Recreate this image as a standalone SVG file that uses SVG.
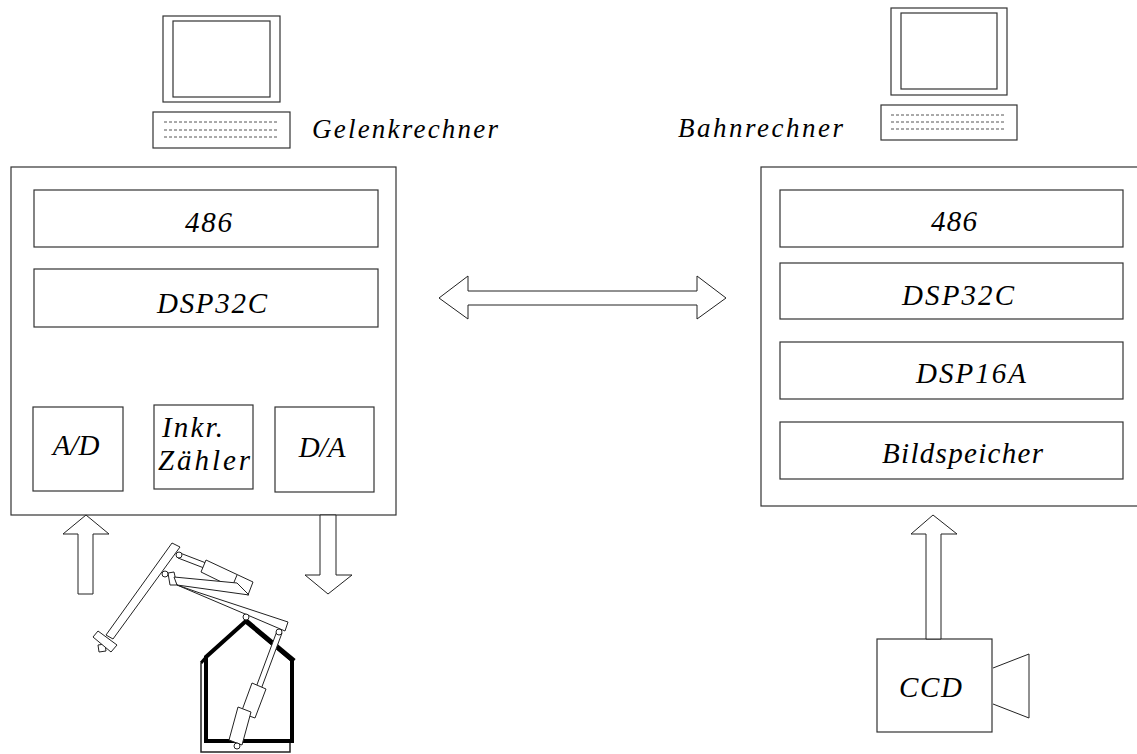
<svg xmlns="http://www.w3.org/2000/svg" width="1137" height="754" viewBox="0 0 1137 754">
  <style>
    .box { fill: #fff; stroke: #333; stroke-width: 1.2; }
    .ln { fill: none; stroke: #222; stroke-width: 1; }
    .fill { fill: #fff; stroke: #222; stroke-width: 1; }
    .thick { fill: none; stroke: #000; stroke-width: 4; stroke-linejoin: miter; }
    .dots { stroke: #555; stroke-width: 1; stroke-dasharray: 3 2; }
  </style>

  <!-- workstation icons -->
  <g id="pc-gelenk">
    <rect class="box" x="163" y="16" width="117" height="86"/>
    <rect class="box" x="173" y="21" width="97" height="76"/>
    <rect class="box" x="153" y="112" width="137" height="36"/>
    <line class="dots" x1="164" y1="122" x2="277" y2="122"/>
    <line class="dots" x1="164" y1="130" x2="277" y2="130"/>
    <line class="dots" x1="164" y1="137" x2="277" y2="137"/>
    <text font-family="Liberation Serif, Times New Roman, serif" font-style="italic" font-size="27" x="312" y="138" textLength="186" lengthAdjust="spacing">Gelenkrechner</text>
  </g>
  <g id="pc-bahn">
    <rect class="box" x="891" y="8" width="116" height="87"/>
    <rect class="box" x="901" y="13" width="96" height="76"/>
    <rect class="box" x="881" y="105" width="136" height="35"/>
    <line class="dots" x1="891" y1="115" x2="1004" y2="115"/>
    <line class="dots" x1="891" y1="122" x2="1004" y2="122"/>
    <line class="dots" x1="891" y1="129" x2="1004" y2="129"/>
    <text font-family="Liberation Serif, Times New Roman, serif" font-style="italic" font-size="27" x="678" y="137" textLength="165" lengthAdjust="spacing">Bahnrechner</text>
  </g>

  <!-- joint controller -->
  <g id="gelenkrechner" font-family="Liberation Serif, Times New Roman, serif" font-style="italic" font-size="29">
    <rect class="box" x="11" y="167" width="385" height="348"/>
    <rect class="box" x="34" y="190" width="344" height="57"/>
    <text x="185" y="232" textLength="47" lengthAdjust="spacing">486</text>
    <rect class="box" x="34" y="269" width="344" height="58"/>
    <text x="157" y="313" textLength="110" lengthAdjust="spacing">DSP32C</text>
    <g id="ad">
      <rect class="box" x="33" y="407" width="90" height="84"/>
      <text x="76" y="455" text-anchor="middle">A/D</text>
    </g>
    <g id="zaehler">
      <rect class="box" x="154" y="405" width="99" height="84"/>
      <text x="162" y="437" textLength="61" lengthAdjust="spacing">Inkr.</text>
      <text x="158" y="470" textLength="92" lengthAdjust="spacing">Zähler</text>
    </g>
    <g id="da">
      <rect class="box" x="275" y="407" width="99" height="85"/>
      <text x="322" y="457" text-anchor="middle">D/A</text>
    </g>
  </g>

  <!-- path controller -->
  <g id="bahnrechner" font-family="Liberation Serif, Times New Roman, serif" font-style="italic" font-size="29">
    <rect class="box" x="761" y="167" width="400" height="339"/>
    <rect class="box" x="780" y="190" width="343" height="57"/>
    <text x="931" y="231" textLength="46" lengthAdjust="spacing">486</text>
    <rect class="box" x="780" y="263" width="343" height="56"/>
    <text x="902" y="305" textLength="112" lengthAdjust="spacing">DSP32C</text>
    <rect class="box" x="780" y="342" width="343" height="57"/>
    <text x="916" y="383" textLength="110" lengthAdjust="spacing">DSP16A</text>
    <rect class="box" x="780" y="422" width="343" height="57"/>
    <text x="882" y="463" textLength="161" lengthAdjust="spacing">Bildspeicher</text>
  </g>

  <!-- camera -->
  <g id="ccd">
    <rect class="box" x="877" y="639" width="115" height="93"/>
    <path class="ln" d="M993,668 L1029,654 L1029,718 L993,704"/>
    <text font-family="Liberation Serif, Times New Roman, serif" font-style="italic" font-size="29" x="899" y="697" textLength="63" lengthAdjust="spacing">CCD</text>
  </g>

  <!-- robot -->
  <g id="roboter">
    <!-- upper arm with gripper -->
    <polygon class="fill" points="172,543 180,547 113,639 106,635"/>
    <polygon class="fill" points="98,645 105,644 106,651 99,652"/>
    <polygon class="fill" points="93,637 98,631 117,645 111,652"/>
    <!-- upper cylinder -->
    <polygon class="fill" points="180,553 206,563 204,568 178,558"/>
    <polygon class="fill" points="206,560 253,582 248,595 201,572"/>
    <line class="ln" x1="237" y1="575" x2="232" y2="587"/>
    <circle class="fill" cx="179" cy="555" r="3"/>
    <!-- forearm and lower rod -->
    <polygon class="fill" points="168,573 174,572 177,585 170,585"/>
    <path class="fill" d="M174,577 L237,583 L249,595 L177,585 Z"/>
    <polygon class="fill" points="197,592 288,622 285,631 177,585"/>
    <circle class="fill" cx="165" cy="574" r="3"/>
    <!-- housing -->
    <polyline class="ln" points="201,663 201,752 290,752 290,742" style="stroke-width:1.5"/>
    <line x1="201" y1="663" x2="207" y2="656" stroke="#000" stroke-width="3"/>
    <polygon class="thick" points="246,621 206,657 206,741 292,741 292,660"/>
    <line x1="246" y1="621" x2="294" y2="661" stroke="#000" stroke-width="5"/>
    <circle class="fill" cx="246" cy="617" r="3"/>
    <!-- base cylinder -->
    <polygon class="fill" points="277,631 282,633 260,692 255,690"/>
    <polygon class="fill" points="252,683 266,689 255,718 241,713"/>
    <polygon class="fill" points="238,707 251,712 242,745 229,740"/>
    <circle class="fill" cx="279" cy="632" r="3"/>
    <circle class="fill" cx="237" cy="746" r="3"/>
  </g>

  <!-- data paths -->
  <g id="verbindungen">
    <polygon class="fill" points="439,298 468,276 468,291 697,291 697,276 726,298 697,319 697,305 468,305 468,319"/>
    <polygon class="fill" points="86,515 109,534 93,534 93,594 78,594 78,534 63,534"/>
    <polygon class="fill" points="320,515 336,515 336,575 352,575 328,594 305,575 320,575"/>
    <polygon class="fill" points="933,515 957,534 941,534 941,639 926,639 926,534 911,534"/>
  </g>
</svg>
